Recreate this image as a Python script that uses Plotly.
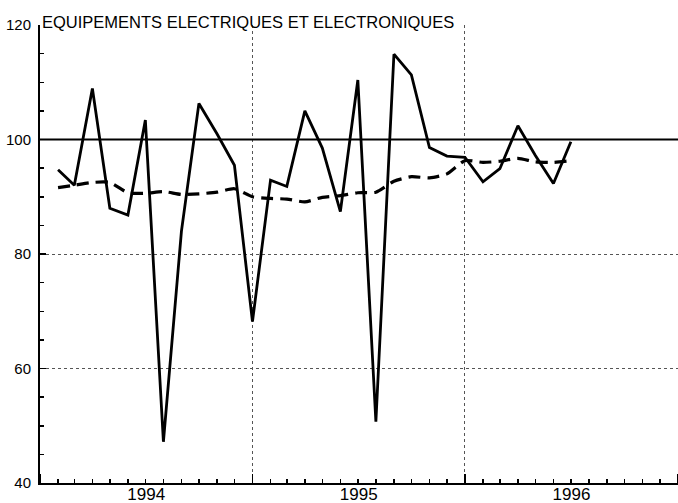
import pandas as pd
import plotly.graph_objects as go

# Monthly observations, Feb 1994 .. Jul 1996
months = pd.date_range("1994-02-01", periods=30, freq="MS")

brute = [94.7, 92.0, 108.9, 88.0, 86.8, 103.4, 47.2, 84.0, 106.3, 101.0, 95.5,
         68.2, 92.9, 91.8, 105.0, 98.5, 87.4, 110.4, 50.7, 114.9, 111.3, 98.6, 97.1,
         96.9, 92.6, 94.9, 102.4, 97.2, 92.3, 99.6]

tendance = [91.6, 92.0, 92.5, 92.5, 90.7, 90.6, 90.9, 90.4, 90.5, 90.8, 91.4,
            90.0, 89.7, 89.6, 89.1, 89.9, 90.2, 90.7, 90.8, 92.7, 93.5, 93.3, 94.0,
            96.3, 96.0, 96.2, 96.7, 96.1, 96.0, 96.3]

REF_LEVEL = 100
y_ticks = [40, 60, 80, 100, 120]
title_text = "EQUIPEMENTS ELECTRIQUES ET ELECTRONIQUES"

FONT = "Liberation Sans, Arial, Helvetica, sans-serif"

fig = go.Figure()
fig.add_trace(go.Scatter(x=months, y=tendance, mode="lines",
                         line=dict(color="black", width=3.2, dash="12px,7px",
                                   shape="spline", smoothing=0.6),
                         showlegend=False, hoverinfo="skip"))
fig.add_trace(go.Scatter(x=months, y=brute, mode="lines",
                         line=dict(color="black", width=2.8),
                         showlegend=False, hoverinfo="skip"))
fig.add_hline(y=REF_LEVEL, line=dict(color="black", width=2), layer="above")

fig.update_layout(
    width=678, height=503,
    margin=dict(l=40, r=0, t=25, b=20, autoexpand=False),
    paper_bgcolor="white", plot_bgcolor="white",
    font=dict(family=FONT, color="black"),
    title=dict(text=title_text, font=dict(size=16.5, family=FONT, color="black"),
               xref="container", yref="container", x=42/678, xanchor="left",
               y=1 - 28/503, yanchor="bottom", pad=dict(l=0, r=0, t=0, b=0),
               automargin=False),
    xaxis=dict(type="date", range=["1994-01-01", "1997-01-01"],
               dtick="M12", tick0="1994-01-01", tickformat="%Y",
               ticklabelmode="period", ticks="inside", ticklen=9,
               tickwidth=1.5, tickcolor="black",
               showgrid=True, gridcolor="#555", griddash="dot", gridwidth=1,
               showline=True, linecolor="black", linewidth=2,
               tickfont=dict(size=17, family=FONT, color="black"),
               minor=dict(dtick="M1", tick0="1994-01-01", ticks="inside",
                          ticklen=4, tickwidth=1.5, tickcolor="black",
                          showgrid=False),
               zeroline=False, fixedrange=True, automargin=False,
               ticklabelstandoff=-5),
    yaxis=dict(range=[40, 120], tickvals=y_ticks, ticks="inside", ticklen=6,
               tickwidth=1.5, tickcolor="black",
               showgrid=True, gridcolor="#555", griddash="dot", gridwidth=1,
               showline=True, linecolor="black", linewidth=2,
               tickfont=dict(size=15, family=FONT, color="black"),
               minor=dict(dtick=5, ticks="inside", ticklen=4, tickwidth=1.5,
                          tickcolor="black", showgrid=False),
               zeroline=False, fixedrange=True, automargin=False,
               ticklabelstandoff=4),
)

fig.write_html("out.html",
               config={"displayModeBar": False, "staticPlot": True},
               post_script="document.body.style.margin='0';document.body.style.overflow='hidden';")
